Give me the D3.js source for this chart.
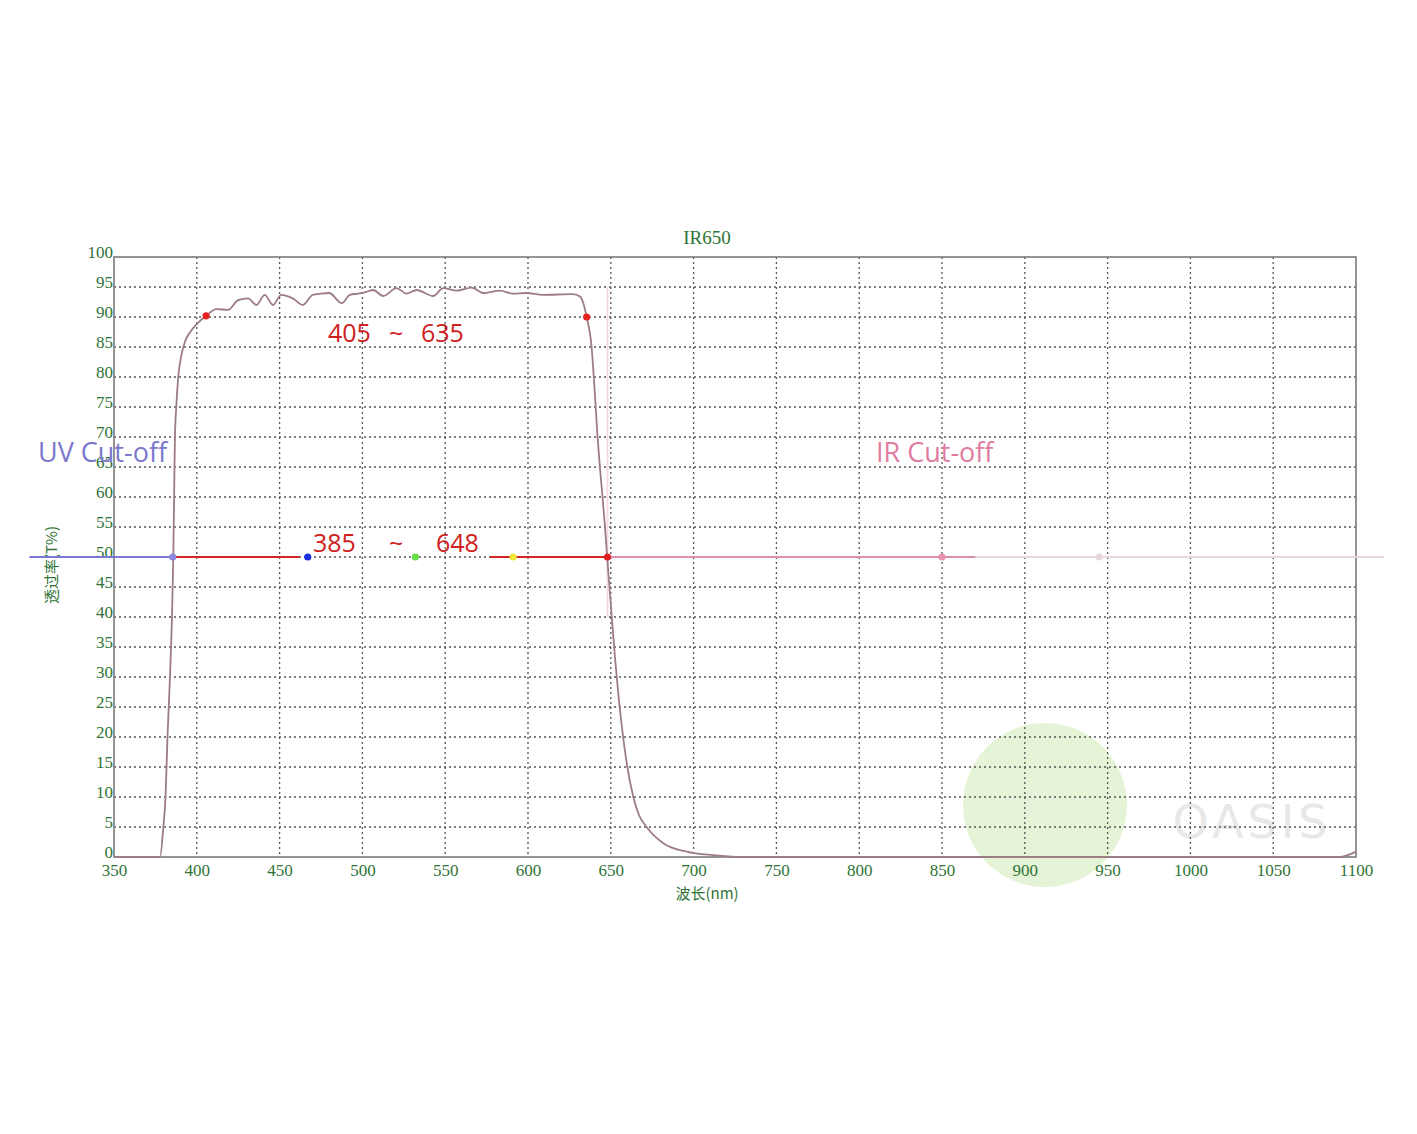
<!DOCTYPE html>
<html><head><meta charset="utf-8">
<script src="https://cdn.jsdelivr.net/npm/d3@7"></script>
<style>body{margin:0;background:#fff;}svg{display:block;}</style>
</head><body>
<script>
// ---- data ----
const wavelength = [350, 377.8, 379.8, 381.1, 382.3, 383.8, 385, 385.8, 386.3, 386.8, 387.6, 388.8, 390.6, 393, 396, 400, 405.6, 412, 418.8, 425, 431, 436, 441, 446, 451, 458, 464, 470, 475, 480, 487.5, 492.5, 497.5, 502.5, 506.5, 512.6, 520.6, 526.7, 532.7, 542.8, 548.8, 556.9, 566, 573, 583, 591, 599, 609, 627, 631.4, 633.4, 635.4, 638.4, 640.2, 642, 643.4, 645, 646.5, 647.8, 649.2, 650.6, 652.6, 654.6, 657, 660, 663.6, 667, 671.6, 681.7, 695.8, 711.9, 728, 1090, 1100];
const transmission = [0, 0, 5, 10, 20, 30, 40, 50, 60, 70, 75, 80, 83.5, 86, 87.5, 88.8, 90.2, 91.3, 91.2, 92.8, 93.1, 92, 93.7, 92, 93.7, 93.1, 92, 93.7, 93.9, 94, 92.3, 93.7, 93.9, 94.2, 94.5, 93.5, 94.8, 93.9, 94.5, 93.5, 94.8, 94.4, 94.9, 94, 94.4, 93.9, 94, 93.7, 93.8, 93.4, 92.3, 90, 85, 78, 70, 65, 60, 55, 50, 45, 40, 33, 27, 21, 15, 10, 7, 5, 2.3, 0.9, 0.3, 0, 0, 0.9];
const xTicks = [350, 400, 450, 500, 550, 600, 650, 700, 750, 800, 850, 900, 950, 1000, 1050, 1100];
const yTicks = [0, 5, 10, 15, 20, 25, 30, 35, 40, 45, 50, 55, 60, 65, 70, 75, 80, 85, 90, 95, 100];
// 50% reference segments [from, to, colour]
const segStart = [299, 385.5, 577, 648, 870];
const segEnd   = [385.5, 462, 648, 870, 1117];
const segColor = ["#7b78d4", "#d42525", "#d42525", "#dc8fae", "#e6d6db"];
// marker points at 50% and 90%
const markWl = [385.5, 467, 532, 591, 648, 850, 945, 405.6, 635.4];
const markT  = [50, 50, 50, 50, 50, 50, 50, 90.2, 90];
const markColor = ["#8c88dc", "#1a2ee0", "#66dd44", "#f5e63a", "#e02020", "#e890b0", "#e8d8dc", "#e82020", "#e82020"];

const W = 1417, H = 1134;
const svg = d3.select("body").append("svg").attr("width", W).attr("height", H);
const x = d3.scaleLinear().domain([350, 1100]).range([114, 1356]);
const y = d3.scaleLinear().domain([0, 100]).range([857, 257]);

const green = "#2f7436";
const serif = "'Liberation Serif','DejaVu Serif',serif";

// watermark
svg.append("circle").attr("cx", 1045).attr("cy", 805).attr("r", 82)
  .attr("fill", "#dcefc8").attr("opacity", 0.75);
svg.append("text").attr("x", 1045).attr("y", 818).attr("text-anchor", "middle")
  .attr("font-family", "'DejaVu Sans',sans-serif").attr("font-size", 32).attr("font-weight", "bold")
  .attr("fill", "#e6f2da").text("OPTO");
svg.append("text").attr("x", 1252).attr("y", 838).attr("text-anchor", "middle")
  .attr("font-family", "'DejaVu Sans',sans-serif").attr("font-size", 46)
  .attr("letter-spacing", 4).attr("fill", "#e8e8e8").text("OASIS");

// grid
const grid = svg.append("g");
grid.selectAll("line.v").data(xTicks.slice(1, -1)).join("line")
  .attr("x1", d => x(d)).attr("x2", d => x(d)).attr("y1", y(100)).attr("y2", y(0))
  .attr("stroke", "#555").attr("stroke-width", 1.3).attr("stroke-dasharray", "2,3");
grid.selectAll("line.h").data(yTicks.slice(1, -1)).join("line")
  .attr("x1", x(350)).attr("x2", x(1100)).attr("y1", d => y(d)).attr("y2", d => y(d))
  .attr("stroke", "#555").attr("stroke-width", 1.3).attr("stroke-dasharray", "2,3");

// frame
svg.append("rect").attr("x", x(350)).attr("y", y(100)).attr("width", x(1100) - x(350)).attr("height", y(0) - y(100))
  .attr("fill", "none").attr("stroke", "#7a7a7a").attr("stroke-width", 1.6);

// axes (labels only)
const xAxis = d3.axisBottom(x).tickValues(xTicks).tickFormat(d3.format("d")).tickSize(0).tickPadding(7);
const gx = svg.append("g").attr("transform", `translate(0,${y(0)})`).call(xAxis);
gx.select(".domain").remove();
gx.selectAll("text").attr("font-family", serif).attr("font-size", 17).attr("fill", green);

const yAxis = d3.axisLeft(y).tickValues(yTicks).tickFormat(d3.format("d")).tickSize(0).tickPadding(1);
const gy = svg.append("g").attr("transform", `translate(${x(350)},0)`).call(yAxis);
gy.select(".domain").remove();
gy.selectAll("text").attr("font-family", serif).attr("font-size", 17).attr("fill", green).attr("dy", "0");

// titles
svg.append("text").attr("x", 707).attr("y", 244).attr("text-anchor", "middle")
  .attr("font-family", serif).attr("font-size", 19).attr("fill", green).text("IR650");
svg.append("text").attr("x", 707).attr("y", 899).attr("text-anchor", "middle")
  .attr("font-family", "'Noto Sans CJK SC',serif").attr("font-size", 15).attr("fill", green).text("波长(nm)");
svg.append("text").attr("transform", "translate(57,565) rotate(-90)").attr("text-anchor", "middle")
  .attr("font-family", "'Noto Sans CJK SC',serif").attr("font-size", 15).attr("fill", green).text("透过率(T%)");

// 50% reference segments
svg.append("g").selectAll("line").data(segStart).join("line")
  .attr("x1", (d) => x(d)).attr("x2", (d, i) => x(segEnd[i]))
  .attr("y1", y(50)).attr("y2", y(50))
  .attr("stroke", (d, i) => segColor[i]).attr("stroke-width", 2);

// faint IR cut vertical
svg.append("line").attr("x1", x(648)).attr("x2", x(648)).attr("y1", y(95)).attr("y2", y(40))
  .attr("stroke", "#f2c4cf").attr("stroke-width", 2).attr("opacity", 0.6);

// curve
const line = d3.line().x((d, i) => x(wavelength[i])).y((d, i) => y(transmission[i])).curve(d3.curveMonotoneX);
svg.append("path").datum(transmission).attr("d", line)
  .attr("fill", "none").attr("stroke", "#9c7d83").attr("stroke-width", 1.8);

// markers
svg.append("g").selectAll("circle").data(markWl).join("circle")
  .attr("cx", d => x(d)).attr("cy", (d, i) => y(markT[i])).attr("r", 3.6)
  .attr("fill", (d, i) => markColor[i]);

// annotation texts
const sans = "'Open Sans','Noto Sans',sans-serif";
const red = "#cf2020";
function label(tx, ty, s, size, col) {
  svg.append("text").attr("x", tx).attr("y", ty).attr("font-family", sans).attr("font-size", size)
    .attr("fill", col).text(s);
}
label(328, 342, "405", 25, red);
label(389, 342, "~", 25, red);
label(421, 342, "635", 25, red);
label(313, 552, "385", 25, red);
label(389, 552, "~", 25, red);
label(436, 552, "648", 25, red);
label(38, 462, "UV Cut-off", 27, "#7b78cc");
label(876, 462, "IR Cut-off", 27, "#e07ca2");
</script>
</body></html>
